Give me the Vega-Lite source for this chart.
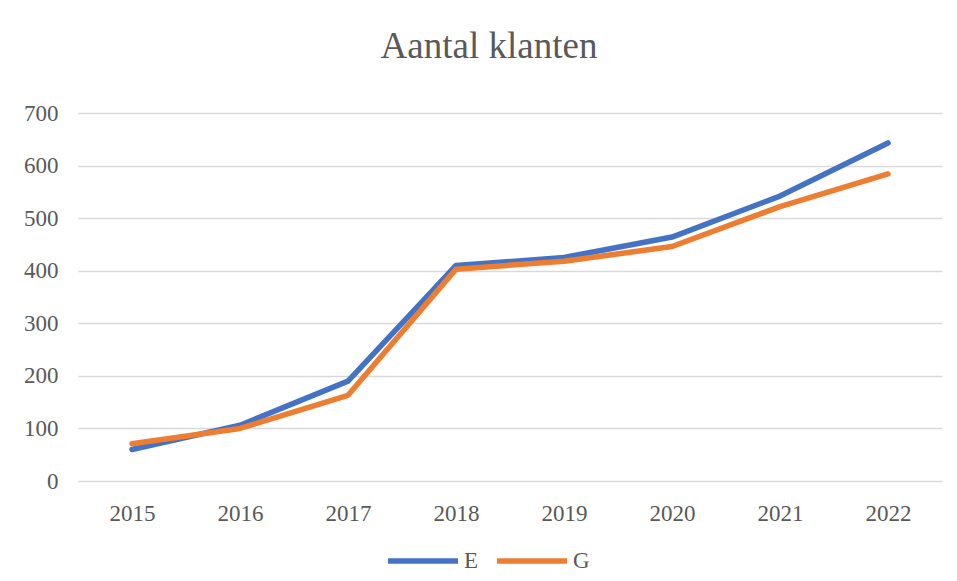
{
  "$schema": "https://vega.github.io/schema/vega-lite/v6.json",
  "width": 864,
  "height": 368,
  "autosize": {"type": "none"},
  "padding": {"left": 78, "top": 113, "right": 15, "bottom": 100},
  "background": "white",
  "title": {
    "text": "Aantal klanten",
    "font": "Liberation Serif",
    "fontSize": 37,
    "fontWeight": "normal",
    "color": "#595959",
    "anchor": "middle",
    "dx": -21,
    "offset": 36
  },
  "data": {
    "values": [
      {"year": "2015", "serie": "E", "value": 60},
      {"year": "2016", "serie": "E", "value": 106},
      {"year": "2017", "serie": "E", "value": 190},
      {"year": "2018", "serie": "E", "value": 410},
      {"year": "2019", "serie": "E", "value": 425},
      {"year": "2020", "serie": "E", "value": 464},
      {"year": "2021", "serie": "E", "value": 542},
      {"year": "2022", "serie": "E", "value": 643},
      {"year": "2015", "serie": "G", "value": 71},
      {"year": "2016", "serie": "G", "value": 100},
      {"year": "2017", "serie": "G", "value": 163},
      {"year": "2018", "serie": "G", "value": 403},
      {"year": "2019", "serie": "G", "value": 418},
      {"year": "2020", "serie": "G", "value": 446},
      {"year": "2021", "serie": "G", "value": 522},
      {"year": "2022", "serie": "G", "value": 584}
    ]
  },
  "mark": {"type": "line", "strokeWidth": 5.5, "strokeCap": "round", "strokeJoin": "round"},
  "encoding": {
    "x": {
      "field": "year",
      "type": "ordinal",
      "title": null,
      "axis": {
        "labelAngle": 0,
        "labelFont": "Liberation Serif",
        "labelFontSize": 23,
        "labelColor": "#595959",
        "labelPadding": 21,
        "ticks": false,
        "domain": false,
        "grid": false
      }
    },
    "y": {
      "field": "value",
      "type": "quantitative",
      "title": null,
      "scale": {"domain": [0, 700], "nice": false},
      "axis": {
        "values": [0, 100, 200, 300, 400, 500, 600, 700],
        "labelFont": "Liberation Serif",
        "labelFontSize": 23,
        "labelColor": "#595959",
        "labelPadding": 20,
        "ticks": false,
        "domain": false,
        "grid": true,
        "gridColor": "#D9D9D9",
        "gridWidth": 1.5
      }
    },
    "color": {
      "field": "serie",
      "type": "nominal",
      "title": null,
      "scale": {"domain": ["E", "G"], "range": ["#4472C4", "#ED7D31"]},
      "legend": {
        "orient": "none",
        "legendX": 307,
        "legendY": 410,
        "direction": "horizontal",
        "symbolType": "stroke",
        "symbolSize": 4900,
        "symbolStrokeWidth": 5.5,
        "labelFont": "Liberation Serif",
        "labelFontSize": 23,
        "labelColor": "#595959",
        "labelOffset": 3,
        "columnPadding": 7
      }
    }
  },
  "config": {"view": {"stroke": null}}
}
